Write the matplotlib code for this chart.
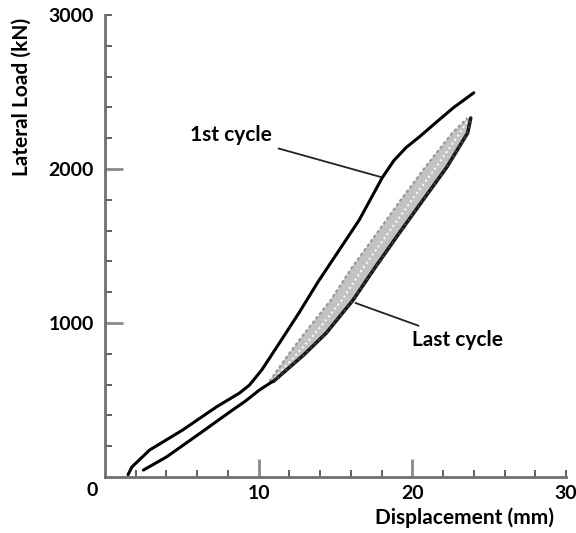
import matplotlib
matplotlib.use("Agg")
import matplotlib.pyplot as plt

plt.rcParams['font.family'] = ['Lato', 'DejaVu Sans']

# 1st cycle, loading branch (mm, kN)
d_first = [1.5, 1.75, 2.9, 5.05, 7.25, 8.75, 9.4, 10.2, 11.35, 12.65, 13.85, 15.25,
           16.55, 18.05, 18.8, 19.6, 20.45, 21.75, 22.7, 24.0]
F_first = [15, 65, 175, 305, 455, 545, 597, 695, 870, 1070, 1265, 1475,
           1670, 1945, 2055, 2140, 2208, 2320, 2400, 2495]

# return branch at low load that runs into the last-cycle band
d_return = [2.5, 4.0, 6.2, 8.3, 9.1, 10.05, 10.9]
F_return = [45, 130, 285, 435, 490, 565, 620]

# last cycle band: upper and lower edges at the same load levels
F_band = [620, 790, 935, 1150, 1364, 1584, 1799, 2013, 2234, 2331]
d_band_up = [10.7, 11.9, 13.0, 14.7, 16.1, 17.7, 19.25, 20.85, 22.6, 23.6]
d_band_lo = [10.95, 12.9, 14.4, 16.15, 17.6, 19.15, 20.7, 22.25, 23.6, 23.8]

fig = plt.figure(figsize=(5.76, 5.33), dpi=100)
ax = fig.add_axes([105 / 576, 56 / 533, 461 / 576, 462 / 533])

# band of the last cycles
ax.fill(d_band_up + d_band_lo[::-1], F_band + F_band[::-1],
        color='#c2c2c2', lw=0, zorder=2)
mid_d = [(a + b) / 2 for a, b in zip(d_band_up, d_band_lo)]
ax.plot(mid_d, F_band, color='white', lw=1.4, ls=(0, (1, 1.6)), zorder=3)
ax.plot(d_band_up, F_band, color='#9a9a9a', lw=1.6, ls=(0, (1.5, 1)), zorder=3,
        solid_joinstyle='round')
ax.plot(d_band_lo, F_band, color='#1a1a1a', lw=2.6, zorder=3,
        solid_joinstyle='round', solid_capstyle='round')
ax.plot(d_band_lo, F_band, color='#5a5a5a', lw=1.0, ls=(0, (1, 3)), zorder=4)

ax.plot(d_return, F_return, color='black', lw=2.2, zorder=4,
        solid_joinstyle='round', solid_capstyle='round')
ax.plot(d_first, F_first, color='black', lw=2.2, zorder=4,
        solid_joinstyle='round', solid_capstyle='round')

ax.set_xlim(0, 30)
ax.set_ylim(0, 3000)

for side in ['top', 'right']:
    ax.spines[side].set_visible(False)
for side in ['left', 'bottom']:
    ax.spines[side].set_color('#707070')
    ax.spines[side].set_linewidth(2)

lab_font = dict(fontsize=15, fontweight='bold')

ax.set_xticks([10, 20], labels=['10', '20'])
ax.set_yticks([1000, 2000], labels=['1000', '2000'])
x_minor = [2, 4, 6, 8, 12, 14, 16, 18, 22, 24, 26, 28, 30]
y_minor = [200, 400, 600, 800, 1200, 1400, 1600, 1800, 2200, 2400, 2600, 2800, 3000]
ax.set_xticks(x_minor, minor=True, labels=[''] * 12 + ['30'])
ax.set_yticks(y_minor, minor=True, labels=[''] * 12 + ['3000'])
ax.tick_params(which='major', direction='in', length=13, width=2, color='#8a8a8a')
ax.tick_params(which='minor', direction='in', length=5, width=1.3, color='#555555')
ax.tick_params(axis='x', which='both', pad=6, labelsize=14)
ax.tick_params(axis='y', which='both', pad=8, labelsize=14)
for lbl in ax.get_xticklabels(which='both') + ax.get_yticklabels(which='both'):
    lbl.set_fontweight('bold')

ax.annotate('0', xy=(0, 0), xytext=(-13, -13), textcoords='offset pixels',
            ha='center', va='center', annotation_clip=False,
            fontsize=14, fontweight='bold')

ax.set_xlabel('Displacement (mm)', va='center', **lab_font)
ax.xaxis.set_label_coords(0.78, -0.089)
ax.set_ylabel('Lateral Load (kN)', va='center', **lab_font)
ax.yaxis.set_label_coords(-0.18, 0.823)

ax.annotate('1st cycle', xy=(18.05, 1945), xytext=(10.85, 2220),
            ha='right', va='center', **lab_font,
            arrowprops=dict(arrowstyle='-', color='#222222', lw=1.3,
                            shrinkA=3, shrinkB=0))
ax.annotate('Last cycle', xy=(16.3, 1130), xytext=(20.0, 890),
            ha='left', va='center', **lab_font,
            arrowprops=dict(arrowstyle='-', color='#222222', lw=1.3,
                            shrinkA=3, shrinkB=0))

fig.savefig('out.png', dpi=100)
